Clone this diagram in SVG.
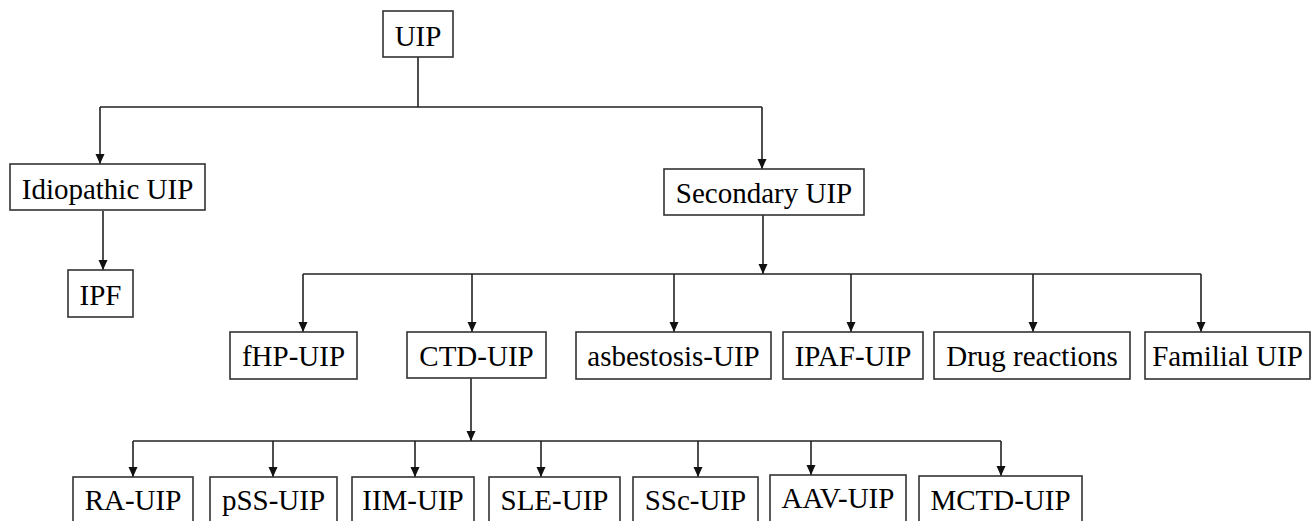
<svg xmlns="http://www.w3.org/2000/svg" width="1311" height="521" viewBox="0 0 1311 521">
<style>
.box{fill:#fff;stroke:#333;stroke-width:1.6}
.lbl{font-family:"Liberation Serif","Times New Roman",serif;font-size:29px;fill:#000;text-anchor:middle}
.ln{fill:none;stroke:#222;stroke-width:1.6}
.ar{fill:none;stroke:#222;stroke-width:1.6;marker-end:url(#ah)}
</style>
<defs>
<marker id="ah" markerUnits="userSpaceOnUse" markerWidth="10" markerHeight="10" viewBox="0 0 10 10" refX="10" refY="5" orient="auto">
<path d="M0,0.5 L10,5 L0,9.5 z" fill="#111"/>
</marker>
</defs>
<rect width="1311" height="521" fill="#fff"/>
<g id="connectors">
<path class="ln" d="M418,57 V107 M100,107 H762"/>
<path class="ar" d="M100,107 V164"/>
<path class="ar" d="M762,107 V169"/>
<path class="ar" d="M103,211 V270"/>
<path class="ar" d="M763,215 V274"/>
<path class="ln" d="M303,274 H1201"/>
<path class="ar" d="M303,274 V332"/>
<path class="ar" d="M472,274 V332"/>
<path class="ar" d="M674,274 V332"/>
<path class="ar" d="M851,274 V332"/>
<path class="ar" d="M1033,274 V332"/>
<path class="ar" d="M1201,274 V332"/>
<path class="ar" d="M471,378 V441"/>
<path class="ln" d="M133,441 H1001"/>
<path class="ar" d="M133,441 V477"/>
<path class="ar" d="M273,441 V477"/>
<path class="ar" d="M415,441 V477"/>
<path class="ar" d="M541,441 V477"/>
<path class="ar" d="M698,441 V477"/>
<path class="ar" d="M811,441 V475"/>
<path class="ar" d="M1001,441 V476"/>
</g>
<g id="n-uip"><rect class="box" x="383" y="11" width="70" height="46"/><text class="lbl" x="418" y="46">UIP</text></g>
<g id="n-idiopathic"><rect class="box" x="10" y="164" width="195" height="46"/><text class="lbl" x="107.5" y="199">Idiopathic UIP</text></g>
<g id="n-secondary"><rect class="box" x="664" y="169" width="200" height="46"/><text class="lbl" x="764" y="203">Secondary UIP</text></g>
<g id="n-ipf"><rect class="box" x="68" y="270" width="65" height="47"/><text class="lbl" x="100.5" y="305">IPF</text></g>
<g id="n-fhp"><rect class="box" x="230" y="332" width="127" height="47"/><text class="lbl" x="293.5" y="366">fHP-UIP</text></g>
<g id="n-ctd"><rect class="box" x="407" y="332" width="139" height="46"/><text class="lbl" x="476.5" y="366">CTD-UIP</text></g>
<g id="n-asb"><rect class="box" x="576" y="332" width="195" height="47"/><text class="lbl" x="673.5" y="366">asbestosis-UIP</text></g>
<g id="n-ipaf"><rect class="box" x="783" y="332" width="140" height="47"/><text class="lbl" x="853" y="366">IPAF-UIP</text></g>
<g id="n-drug"><rect class="box" x="934" y="332" width="196" height="47"/><text class="lbl" x="1032" y="366">Drug reactions</text></g>
<g id="n-familial"><rect class="box" x="1145" y="332" width="165" height="47"/><text class="lbl" x="1227.5" y="366">Familial UIP</text></g>
<g id="n-ra"><rect class="box" x="73" y="477" width="120" height="47"/><text class="lbl" x="133" y="510">RA-UIP</text></g>
<g id="n-pss"><rect class="box" x="210" y="477" width="127" height="47"/><text class="lbl" x="273.5" y="510">pSS-UIP</text></g>
<g id="n-iim"><rect class="box" x="352" y="477" width="122" height="47"/><text class="lbl" x="413" y="510">IIM-UIP</text></g>
<g id="n-sle"><rect class="box" x="489" y="477" width="131" height="47"/><text class="lbl" x="554.5" y="510">SLE-UIP</text></g>
<g id="n-ssc"><rect class="box" x="633" y="477" width="125" height="47"/><text class="lbl" x="695.5" y="510">SSc-UIP</text></g>
<g id="n-aav"><rect class="box" x="770" y="475" width="136" height="49"/><text class="lbl" x="838" y="508">AAV-UIP</text></g>
<g id="n-mctd"><rect class="box" x="919" y="476" width="163" height="48"/><text class="lbl" x="1000.5" y="510">MCTD-UIP</text></g>
</svg>
